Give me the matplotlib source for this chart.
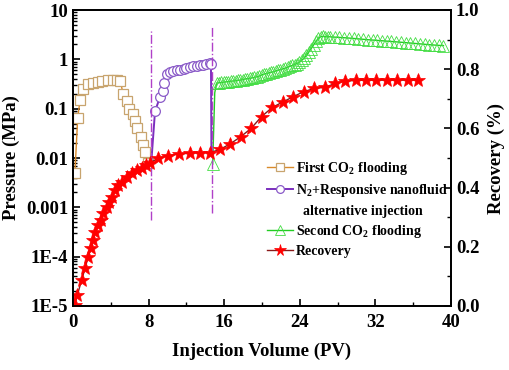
import matplotlib
matplotlib.use("Agg")
import matplotlib.pyplot as plt
from matplotlib.lines import Line2D
from matplotlib.ticker import MultipleLocator, FixedLocator, FuncFormatter, LogLocator, NullFormatter

# first CO2 flooding (pressure, MPa)
first_x = [0.2, 0.5, 0.75, 1.1, 1.6, 2.1, 2.6, 3.1, 3.7, 4.2, 4.7, 5.0, 5.3, 5.7, 5.9,
           6.35, 6.6, 6.8, 7.2, 7.4, 7.6, 7.9]
first_p = [0.005, 0.066, 0.15, 0.25, 0.31, 0.33, 0.35, 0.37, 0.38, 0.39, 0.39, 0.37, 0.2,
           0.14, 0.1, 0.077, 0.055, 0.04, 0.027, 0.018, 0.013, 0.008]

# N2 + responsive nanofluid alternative injection
nano_x = [8.3, 8.68, 9.2, 9.56, 9.67, 9.9, 10.26, 10.6, 10.97, 11.3, 11.7, 12.0, 12.4,
          12.7, 13.1, 13.4, 13.8, 14.1, 14.45, 14.6, 14.65]
nano_p = [0.009, 0.089, 0.17, 0.23, 0.33, 0.5, 0.55, 0.57, 0.61, 0.62, 0.64, 0.66, 0.71,
          0.73, 0.74, 0.76, 0.77, 0.82, 0.83, 0.8, 0.011]

# second CO2 flooding
second_x = [14.78, 15.0, 15.2, 15.45, 15.7, 15.95, 16.2, 16.45, 16.7, 16.95, 17.2, 17.45,
            17.7, 17.95, 18.2, 18.45, 18.7, 18.95, 19.2, 19.45, 19.7, 19.95, 20.2, 20.45,
            20.7, 20.95, 21.2, 21.45, 21.7, 21.95, 22.2, 22.45, 22.7, 22.95, 23.2, 23.45,
            23.7, 23.95, 24.2, 24.45, 24.7, 24.95, 25.2, 25.45, 25.7, 25.95, 26.2, 26.45,
            26.7, 26.95, 27.2, 27.7, 28.2, 28.7, 29.2, 29.7, 30.2, 30.7, 31.2, 31.7, 32.2,
            32.7, 33.2, 33.7, 34.2, 34.7, 35.2, 35.7, 36.2, 36.7, 37.2, 37.7, 38.2, 38.7,
            39.2]
second_p = [0.0075, 0.21, 0.33, 0.335, 0.34, 0.345, 0.35, 0.355, 0.36, 0.365, 0.37, 0.375,
            0.38, 0.39, 0.40, 0.405, 0.41, 0.42, 0.43, 0.445, 0.46, 0.48, 0.50, 0.515,
            0.53, 0.545, 0.56, 0.58, 0.60, 0.62, 0.64, 0.665, 0.69, 0.72, 0.75, 0.785,
            0.82, 0.87, 0.95, 1.05, 1.2, 1.4, 1.65, 1.95, 2.3, 2.65, 2.9, 2.92,
            2.9, 2.88, 2.86, 2.82, 2.78, 2.74, 2.7, 2.65, 2.6, 2.55, 2.5, 2.46, 2.42,
            2.38, 2.34, 2.3, 2.26, 2.22, 2.18, 2.14, 2.1, 2.06, 2.02, 1.98, 1.95, 1.92,
            1.9]

# recovery (fraction)
rec_x = [0.0, 0.2, 0.46, 0.92, 1.27, 1.62, 1.87, 2.15, 2.33, 2.68, 2.93, 3.2, 3.56, 3.84,
         4.1, 4.44, 4.8, 5.15, 5.68, 6.2, 6.74, 7.27, 7.72, 8.15, 9.03, 10.1, 11.25, 12.4,
         13.4, 14.5, 15.55, 16.6, 17.75, 18.85, 19.95, 21.1, 22.25, 23.3, 24.4, 25.55,
         26.7, 27.75, 28.8, 29.9, 31.0, 32.1, 33.2, 34.3, 35.4, 36.5]
rec_y = [0.0, 0.003, 0.037, 0.088, 0.127, 0.167, 0.195, 0.223, 0.251, 0.274, 0.29, 0.313,
         0.335, 0.352, 0.369, 0.392, 0.409, 0.42, 0.437, 0.448, 0.459, 0.467, 0.476, 0.484,
         0.499, 0.508, 0.514, 0.516, 0.518, 0.518, 0.529, 0.547, 0.572, 0.6, 0.64, 0.671,
         0.69, 0.707, 0.724, 0.735, 0.739, 0.752, 0.76, 0.762, 0.763, 0.763, 0.763, 0.763,
         0.763, 0.763]

# stage boundaries (dash-dot lines)
stage_x = [8.3, 14.7]
stage_top = [3.7, 4.7]
stage_bottom = [5.6e-4, 7.5e-4]

xticks = [0, 8, 16, 24, 32, 40]
p_ticks = [1e-5, 1e-4, 1e-3, 1e-2, 1e-1, 1, 10]
p_labels = ["1E-5", "1E-4", "0.001", "0.01", "0.1", "1", "10"]
rec_ticks = [0.0, 0.2, 0.4, 0.6, 0.8, 1.0]

plt.rcParams['font.family'] = ['Liberation Serif', 'DejaVu Serif']
plt.rcParams['font.weight'] = 'bold'
plt.rcParams['mathtext.fontset'] = 'custom'
plt.rcParams['mathtext.rm'] = 'Liberation Serif:bold'
plt.rcParams['mathtext.default'] = 'rm'

fig = plt.figure(figsize=(5.1, 3.7), dpi=100)
ax = fig.add_axes([73 / 510, 64 / 370, 378 / 510, 296 / 370])
ax2 = ax.twinx()

l1, = ax.plot(first_x, first_p, color="#D98A2B", lw=1.0, marker="s", ms=6.5,
              mfc="white", mec="#C8A46E", mew=0.9, label="First CO$_2$ flooding")
l2, = ax.plot(nano_x, nano_p, color="#7B2FBE", lw=1.4, marker="o", ms=7,
              mfc="white", mec="#8A5AC8", mew=0.9, markevery=slice(1, -1),
              label="N$_2$+Responsive nanofluid")
l3, = ax.plot(second_x, second_p, color="#22CC22", lw=1.0, marker="^", ms=8.5,
              mfc="none", mec="#44DD44", mew=0.6, markevery=[0] + list(range(2, len(second_x))),
              label="Second CO$_2$ flooding")
for x, top, bot in zip(stage_x, stage_top, stage_bottom):
    ax.plot([x, x], [bot, top], color="#B040C8", lw=1.0, ls="-.")

l4, = ax2.plot(rec_x, rec_y, color="#8B1A1A", lw=1.0, marker="*", ms=10.5,
               mfc="red", mec="red", mew=0.5, label="Recovery")

ax.set_xlim(0, 40)
ax.set_yscale("log")
ax.set_ylim(1e-5, 10)
ax2.set_ylim(0, 1.0)

ax.xaxis.set_major_locator(FixedLocator(xticks))
ax.xaxis.set_minor_locator(MultipleLocator(4))
ax.yaxis.set_major_locator(FixedLocator(p_ticks))
ax.yaxis.set_major_formatter(FuncFormatter(lambda v, pos: p_labels[p_ticks.index(v)] if v in p_ticks else ""))
ax.yaxis.set_minor_locator(LogLocator(base=10, subs=range(2, 10), numticks=20))
ax.yaxis.set_minor_formatter(NullFormatter())
ax2.yaxis.set_major_locator(FixedLocator(rec_ticks))
ax2.yaxis.set_major_formatter(FuncFormatter(lambda v, pos: "%.1f" % v))
ax2.yaxis.set_minor_locator(MultipleLocator(0.1))

for a in (ax, ax2):
    a.tick_params(which="major", direction="in", length=5, width=1.2, labelsize=13.5)
    a.tick_params(which="minor", direction="in", length=3, width=1.0)
    for s in a.spines.values():
        s.set_linewidth(1.3)
ax.tick_params(axis="x", pad=6)

ax.set_xlabel("Injection Volume (PV)", fontsize=13.5, fontweight="bold", labelpad=8)
ax.set_ylabel("Pressure (MPa)", fontsize=13.5, fontweight="bold", labelpad=4)
ax2.set_ylabel("Recovery (%)", fontsize=13.5, fontweight="bold", labelpad=6)

blank = Line2D([], [], linestyle="none", marker="none")
handles = [l1, l2, blank, l3, l4]
labels = [l1.get_label(), l2.get_label(), "  alternative injection", l3.get_label(), l4.get_label()]
leg = ax2.legend(handles, labels, loc="upper left", frameon=False,
                 bbox_to_anchor=(267 / 510, 1 - 160 / 370), bbox_transform=fig.transFigure,
                 fontsize=10, handlelength=1.9, handletextpad=0.2, labelspacing=0.38,
                 borderpad=0, borderaxespad=0, markerscale=0.8)

fig.savefig("out.png", dpi=100)
